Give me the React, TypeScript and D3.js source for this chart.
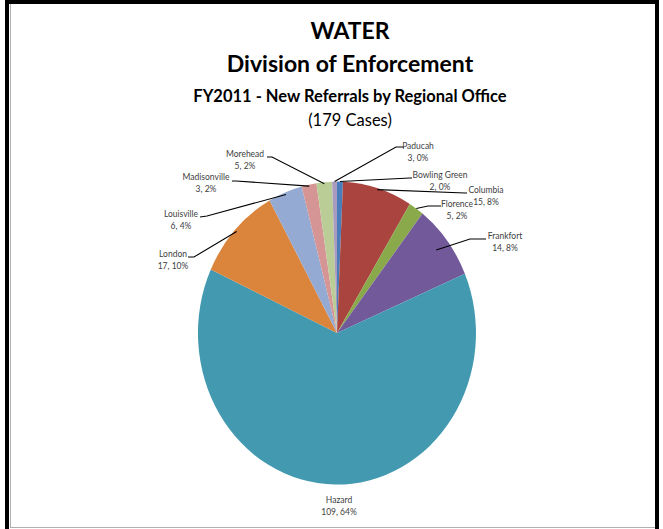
import React from "react";
import * as d3 from "d3";

const names = ["Bowling Green", "Columbia", "Florence", "Frankfort", "Hazard", "London", "Louisville", "Madisonville", "Morehead", "Paducah"];
const cases = [2, 15, 5, 14, 109, 17, 6, 3, 5, 3];
const pctLabels = [0, 8, 2, 8, 64, 10, 4, 2, 2, 0];
// slice sizes as drawn in the picture (percent of the pie)
const sliceShares = [0.69, 8.08, 1.78, 8.06, 63.28, 10.06, 3.97, 1.72, 1.81, 0.56];
const colors = ["#4A7EBB", "#A9443F", "#8AA94B", "#72599A", "#4299B0", "#DB843B", "#94AAD2", "#D49594", "#BACD97", "#A99BC0"];
const titleLines = ["WATER", "Division of Enforcement", "FY2011 - New Referrals by Regional Office", "(179 Cases)"];

// layout: label centre x, name baseline y, leader polyline near label, radius factor of leader end
const labelLayout = [
  { x: 440, y: 178, pts: [[412, 178], [410, 178]], r: 1.0 },
  { x: 486, y: 193, pts: [[467, 193], [465, 193]], r: 0.99 },
  { x: 457, y: 207, pts: [[441, 206], [428, 206]], r: 1.0 },
  { x: 505, y: 239, pts: [[486, 239], [470, 239]], r: 0.9 },
  { x: 339, y: 503, pts: null, r: 1.0 },
  { x: 173, y: 257, pts: [[188, 257], [194, 257]], r: 0.985 },
  { x: 181, y: 217, pts: [[200, 217], [207, 216]], r: 0.985 },
  { x: 206, y: 180, pts: [[232, 181], [236, 181]], r: 0.99 },
  { x: 245, y: 157, pts: [[267, 157], [272, 157]], r: 0.99 },
  { x: 418, y: 149, pts: [[404, 147], [396, 147]], r: 1.0 },
];

const W = 663, H = 529;
const cx = 337, cy = 333, rx = 139, ry = 151.5;

export default function App() {
  const arcs = d3.pie<number>().value((d) => d).sort(null)(sliceShares);
  const arcGen = d3.arc<d3.PieArcDatum<number>>().innerRadius(0).outerRadius(1);
  const font = "Lato, 'Open Sans', sans-serif";

  return (
    <svg width={W} height={H} style={{ position: "absolute", left: 0, top: 0, background: "#fff" }}>
      <rect x={0} y={0} width={W} height={H} fill="#fff" />
      {/* frame */}
      <rect x={5} y={0} width={4} height={H} fill="#000" />
      <rect x={5} y={0} width={654} height={4} fill="#000" />
      <rect x={655} y={0} width={4} height={H} fill="#000" />
      <line x1={10.5} y1={4} x2={10.5} y2={527} stroke="#b0b0b0" />
      <line x1={10} y1={527.5} x2={655} y2={527.5} stroke="#b0b0b0" />

      {/* titles */}
      <g fill="#000" fontFamily={font} textAnchor="middle">
        <text x={350} y={39} fontSize={23} fontWeight="bold">{titleLines[0]}</text>
        <text x={350} y={72} fontSize={23} fontWeight="bold">{titleLines[1]}</text>
        <text x={350} y={102} fontSize={16.5} fontWeight="bold">{titleLines[2]}</text>
        <text x={350} y={126} fontSize={16.5}>{titleLines[3]}</text>
      </g>

      {/* pie */}
      <g transform={`translate(${cx},${cy}) scale(${rx},${ry})`}>
        {arcs.map((a, i) => (
          <path key={i} d={arcGen(a) || ""} fill={colors[i]} />
        ))}
      </g>

      {/* leader lines */}
      <g stroke="#000" strokeWidth={1.1} fill="none">
        {arcs.map((a, i) => {
          const L = labelLayout[i];
          if (!L.pts) return null;
          const m = (a.startAngle + a.endAngle) / 2;
          const ex = cx + rx * L.r * Math.sin(m);
          const ey = cy - ry * L.r * Math.cos(m);
          const pts = [...L.pts, [ex, ey]];
          return <polyline key={i} points={pts.map((p) => p.join(",")).join(" ")} />;
        })}
      </g>

      {/* labels */}
      <g fill="#404040" fontFamily={font} fontSize={8.5} textAnchor="middle">
        {names.map((n, i) => {
          const L = labelLayout[i];
          return (
            <g key={i}>
              <text x={L.x} y={L.y}>{n}</text>
              <text x={L.x} y={L.y + 12}>{`${cases[i]}, ${pctLabels[i]}%`}</text>
            </g>
          );
        })}
      </g>
    </svg>
  );
}
